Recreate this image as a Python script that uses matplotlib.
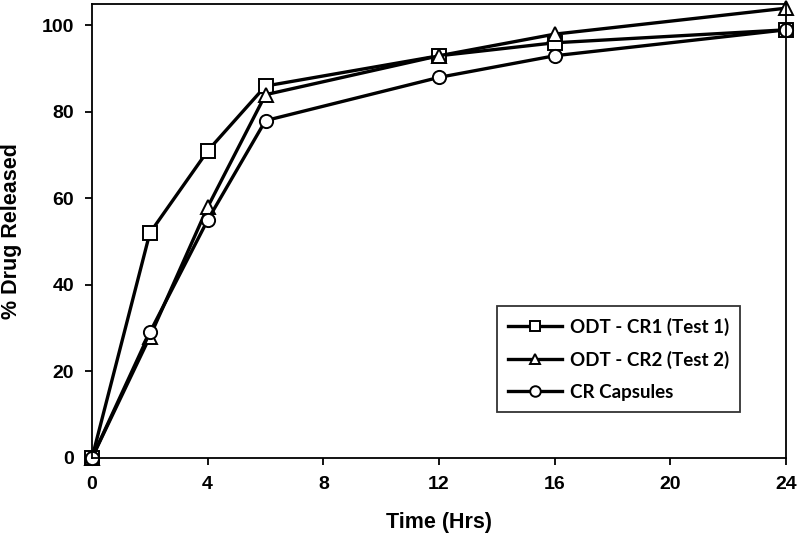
import matplotlib
matplotlib.use("Agg")
import matplotlib.pyplot as plt

plt.rcParams['font.family'] = ['Liberation Sans', 'DejaVu Sans']

# data
time_hrs = [0, 2, 4, 6, 12, 16, 24]
odt_cr1 = [0, 52, 71, 86, 93, 96, 99]
odt_cr2 = [0, 28, 58, 84, 93, 98, 104]
cr_caps = [0, 29, 55, 78, 88, 93, 99]
labels = ['ODT - CR1 (Test 1)', 'ODT - CR2 (Test 2)', 'CR Capsules']
x_ticks = [0, 4, 8, 12, 16, 20, 24]
y_ticks = [0, 20, 40, 60, 80, 100]

fig = plt.figure(figsize=(8, 5.53), dpi=100)
ax = fig.add_axes([0.115, 0.172, 0.8675, 0.821])

style = dict(color='black', lw=2.4, markersize=9.5, markerfacecolor='white',
             markeredgecolor='black', markeredgewidth=1.4, clip_on=False)
ax.plot(time_hrs, odt_cr1, marker='s', label=labels[0], **style)
ax.plot(time_hrs, odt_cr2, marker='^', label=labels[1], **style)
ax.plot(time_hrs, cr_caps, marker='o', label=labels[2], **style)

ax.set_xlim(0, 24)
ax.set_ylim(0, 105)
ax.set_xticks(x_ticks)
ax.set_yticks(y_ticks)
ax.tick_params(direction='out', length=5, width=1.3, labelsize=14, pad=8)
for t in ax.get_xticklabels() + ax.get_yticklabels():
    t.set_fontweight('bold')
for s in ax.spines.values():
    s.set_linewidth(1.3)

ax.set_xlabel('Time (Hrs)', fontsize=15.5, fontweight='bold', labelpad=14)
ax.set_ylabel('% Drug Released', fontsize=15.5, fontweight='bold', labelpad=14)

leg = ax.legend(loc='upper left', bbox_to_anchor=(0.583, 0.334),
                prop={'family': 'Lato', 'weight': 'bold', 'size': 13.5},
                frameon=True, fancybox=False, edgecolor='black',
                handlelength=2.9, borderpad=0.6, labelspacing=0.8,
                handletextpad=0.4, borderaxespad=0, markerscale=0.8)
leg.get_frame().set_linewidth(1.3)

fig.savefig('out.png', dpi=100)
